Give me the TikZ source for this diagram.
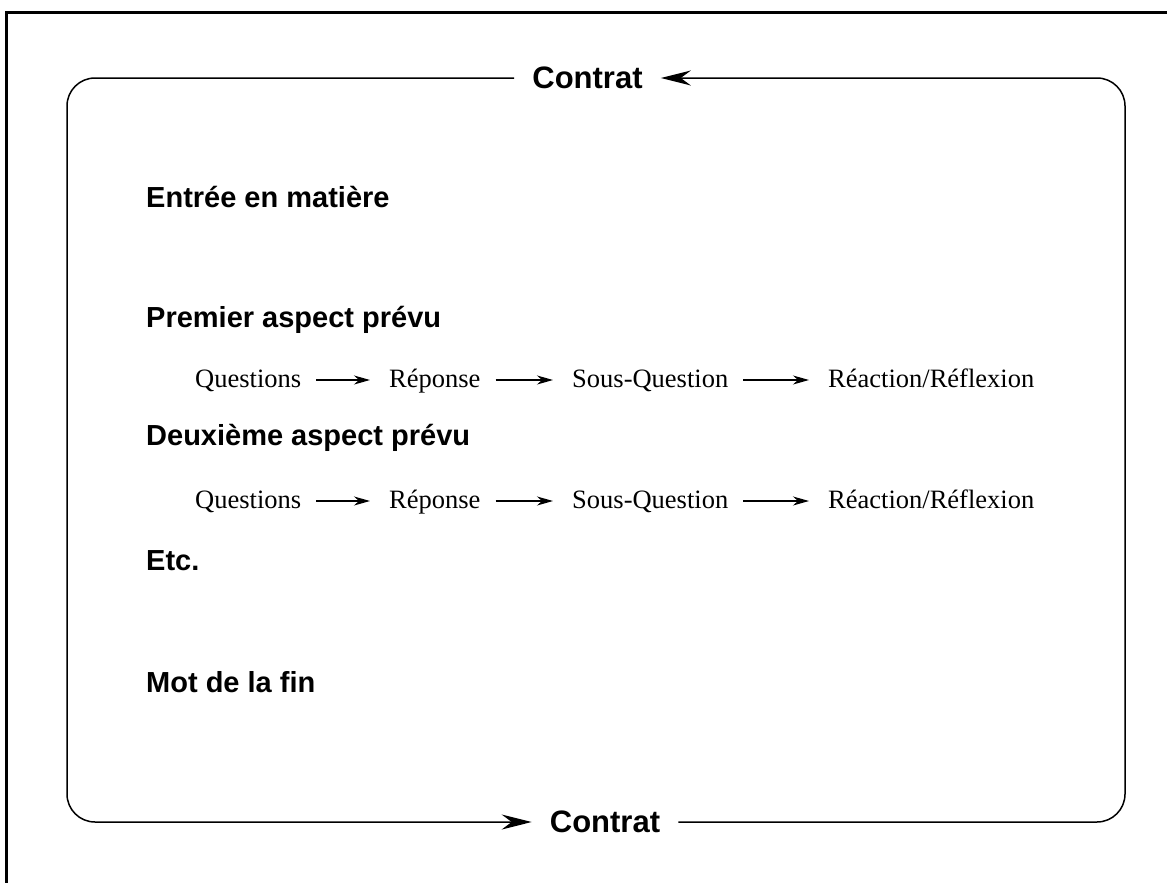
\documentclass[tikz,border=0pt]{standalone}
\usepackage{fontspec}
\setmainfont{Liberation Serif}
\setsansfont{Liberation Sans}
\usetikzlibrary{arrows.meta}
\tikzset{
  titre/.style={font=\sffamily\bfseries\fontsize{29}{34}\selectfont,anchor=base west,inner sep=0pt},
  contrat/.style={font=\sffamily\bfseries\fontsize{31}{36}\selectfont,inner xsep=18pt,inner ysep=0pt},
  etape/.style={font=\fontsize{26.5}{30}\selectfont,anchor=base west,inner sep=0pt,text height=18pt,text depth=4pt},
  fleche/.style={-{Stealth[length=16pt,width=9pt,inset=5pt]},line width=1.2pt,shorten <=15pt,shorten >=19pt},
  grande/.style={-{Stealth[length=30pt,width=15pt,inset=10pt]},line width=1.5pt,rounded corners=28pt},
}
\begin{document}
\begin{tikzpicture}[x=1pt,y=-1pt]
  \useasboundingbox(0,0)rectangle(1167,883);
  \draw[line width=3pt](6,883)--(6,13)--(1167,13);
  % cadre du contrat
  \coordinate(hg) at (67,78);
  \coordinate(bg) at (67,822);
  \coordinate(bd) at (1125,822);
  \coordinate(hd) at (1125,78);
  \node[contrat](c1) at (587.5,78){Contrat};
  \node[contrat](c2) at (605,822){Contrat};
  \draw[grande](c1.west)--(hg)--(bg)--(c2.west);
  \draw[grande](c2.east)--(bd)--(hd)--(c1.east);
  % titres
  \node[titre](entree) at (146,207){Entrée en matière};
  \node[titre](premier) at (146,327){Premier aspect prévu};
  \node[titre](deuxieme) at (146,445){Deuxième aspect prévu};
  \node[titre](etc) at (146,570){Etc.};
  \node[titre](mot) at (146,692){Mot de la fin};
  % premier aspect
  \node[etape](q1) at (195,387){Questions};
  \node[etape](r1) at (389,387){Réponse};
  \node[etape](s1) at (572,387){Sous-Question};
  \node[etape](f1) at (828,387){Réaction/Réflexion};
  \draw[fleche](q1.east)--(r1.west);
  \draw[fleche](r1.east)--(s1.west);
  \draw[fleche](s1.east)--(f1.west);
  % deuxieme aspect
  \node[etape](q2) at (195,508){Questions};
  \node[etape](r2) at (389,508){Réponse};
  \node[etape](s2) at (572,508){Sous-Question};
  \node[etape](f2) at (828,508){Réaction/Réflexion};
  \draw[fleche](q2.east)--(r2.west);
  \draw[fleche](r2.east)--(s2.west);
  \draw[fleche](s2.east)--(f2.west);
\end{tikzpicture}
\end{document}
